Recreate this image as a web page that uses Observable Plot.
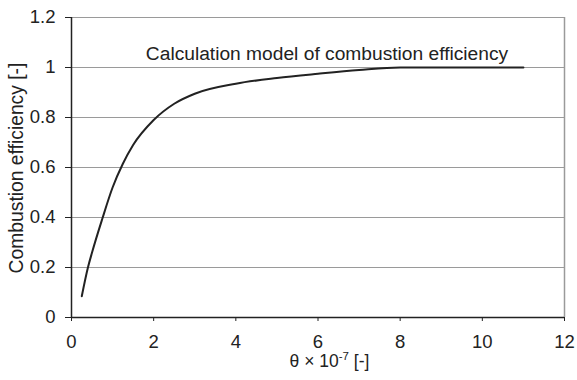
<!DOCTYPE html>
<html>
<head>
<meta charset="utf-8">
<script src="https://cdn.jsdelivr.net/npm/d3@7"></script>
<script src="https://cdn.jsdelivr.net/npm/@observablehq/plot@0.6"></script>
<style>
  html, body { margin: 0; padding: 0; background: #fff; }
  svg { font-family: "Liberation Sans", Arial, sans-serif; }
</style>
</head>
<body>
<div id="chart"></div>
<script>
// Data
const theta = [0.25, 0.4, 0.5, 0.75, 1.0, 1.25, 1.5, 2.0, 2.5, 3.0, 4.0, 5.0, 6.0, 7.0, 8.0, 9.0, 10.0, 11.0];
const efficiency = [0.085, 0.2, 0.26, 0.395, 0.52, 0.615, 0.69, 0.79, 0.855, 0.895, 0.935, 0.958, 0.975, 0.99, 1.0, 1.0, 1.0, 1.0];
const xTicks = [0, 2, 4, 6, 8, 10, 12];
const yTicks = [0, 0.2, 0.4, 0.6, 0.8, 1, 1.2];
const gridValues = [0.2, 0.4, 0.6, 0.8, 1];
const seriesName = "Calculation model of combustion efficiency";
const yLabel = "Combustion efficiency [-]";

const data = theta.map((t, i) => ({theta: t, eff: efficiency[i]}));

const chart = Plot.plot({
  width: 577,
  height: 380,
  marginLeft: 71,
  marginRight: 13,
  marginTop: 17,
  marginBottom: 63,
  style: {fontFamily: '"Liberation Sans", Arial, sans-serif', color: "#222", background: "#fff"},
  x: {domain: [0, 12]},
  y: {domain: [0, 1.2]},
  marks: [
    Plot.gridY(gridValues, {stroke: "#9a9a9a", strokeOpacity: 1, strokeWidth: 1}),
    Plot.ruleY([1.2], {stroke: "#9a9a9a", strokeWidth: 1}),
    Plot.ruleX([12], {stroke: "#9a9a9a", strokeWidth: 1.5}),
    Plot.ruleY([0], {stroke: "#222", strokeWidth: 1.5}),
    Plot.ruleX([0], {stroke: "#222", strokeWidth: 1.5}),
    Plot.axisX(xTicks, {tickSize: 4, tickPadding: 13, fontSize: 18.5, label: null, stroke: "#222"}),
    Plot.axisY(yTicks, {tickSize: 6, tickPadding: 10, fontSize: 18.5, label: null, tickFormat: d => String(d), stroke: "#222"}),
    Plot.line(data, {x: "theta", y: "eff", curve: "monotone-x", stroke: "#222", strokeWidth: 2}),
    Plot.text([seriesName], {frameAnchor: "top", dx: 9, dy: 29, fontSize: 19.2, fill: "#222"}),
    Plot.text([yLabel], {frameAnchor: "left", textAnchor: "middle", lineAnchor: "middle", rotate: -90, dx: -55, dy: 0.5, fontSize: 19.3, fill: "#222"})
  ]
});

document.getElementById("chart").appendChild(chart);

// x axis title with superscript
const sx = chart.scale("x");
const cx = (sx.apply(0) + sx.apply(12)) / 2;
const svg = d3.select(chart);
const t = svg.append("text")
  .attr("x", cx + 12)
  .attr("y", 380 - 13)
  .attr("text-anchor", "middle")
  .attr("font-size", 17.5)
  .attr("fill", "#222");
t.append("tspan").text("θ × 10");
t.append("tspan").attr("dy", -7).attr("font-size", 11.5).text("-7");
t.append("tspan").attr("dy", 7).text(" [-]");
</script>
</body>
</html>
